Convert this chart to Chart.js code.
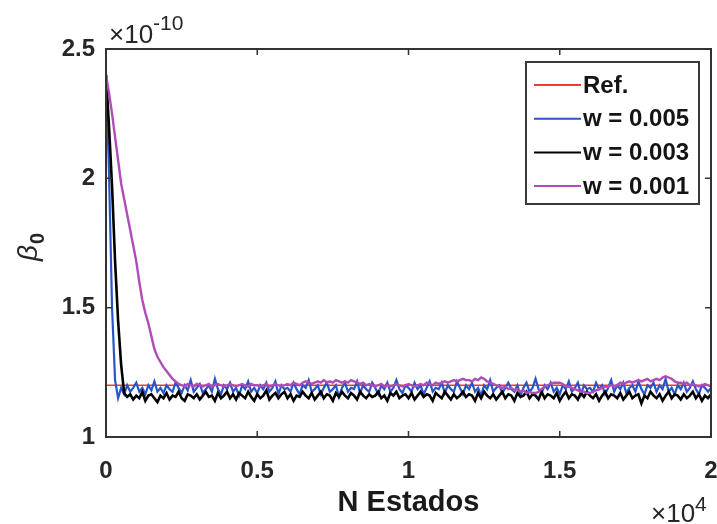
<!DOCTYPE html>
<html>
<head>
<meta charset="utf-8">
<script src="https://cdn.jsdelivr.net/npm/chart.js@4.4.1/dist/chart.umd.min.js"></script>
<style>
  html, body { margin: 0; padding: 0; background: #fff; }
  canvas { display: block; }
</style>
</head>
<body>
<canvas id="betaChart" width="717" height="524"></canvas>
<script>
// samples every 100 states, values in units of 1e-10
const sampleStep = 100;

const refLine = [1.2, 1.2];
const refStates = [0, 20000];

const w005 = [
  2.40, 2.02, 1.50, 1.22, 1.15, 1.19, 1.165, 1.20, 1.175, 1.19,
  1.21, 1.175, 1.19, 1.165, 1.20, 1.18, 1.215, 1.175, 1.19, 1.17,
  1.20, 1.185, 1.175, 1.21, 1.19, 1.17, 1.20, 1.18, 1.22, 1.175,
  1.19, 1.205, 1.17, 1.185, 1.20, 1.175, 1.225, 1.185, 1.165, 1.20,
  1.185, 1.21, 1.175, 1.19, 1.16, 1.20, 1.185, 1.215, 1.175, 1.19,
  1.17, 1.20, 1.185, 1.21, 1.175, 1.19, 1.215, 1.165, 1.20, 1.185,
  1.19, 1.175, 1.21, 1.185, 1.165, 1.20, 1.19, 1.22, 1.175, 1.185,
  1.20, 1.165, 1.19, 1.21, 1.175, 1.185, 1.20, 1.155, 1.19, 1.21,
  1.175, 1.19, 1.185, 1.215, 1.17, 1.20, 1.185, 1.175, 1.21, 1.19,
  1.165, 1.20, 1.185, 1.21, 1.175, 1.19, 1.22, 1.185, 1.17, 1.20,
  1.19, 1.175, 1.21, 1.185, 1.20, 1.165, 1.19, 1.215, 1.175, 1.19,
  1.185, 1.21, 1.17, 1.20, 1.185, 1.175, 1.215, 1.19, 1.165, 1.20,
  1.185, 1.21, 1.175, 1.19, 1.16, 1.20, 1.185, 1.22, 1.175, 1.19,
  1.20, 1.17, 1.19, 1.21, 1.185, 1.175, 1.20, 1.16, 1.19, 1.21,
  1.175, 1.19, 1.225, 1.185, 1.17, 1.20, 1.185, 1.21, 1.175, 1.19,
  1.165, 1.20, 1.185, 1.215, 1.175, 1.19, 1.21, 1.165, 1.20, 1.185,
  1.19, 1.175, 1.21, 1.185, 1.20, 1.165, 1.19, 1.22, 1.175, 1.20,
  1.185, 1.21, 1.17, 1.19, 1.20, 1.175, 1.215, 1.185, 1.165, 1.20,
  1.19, 1.21, 1.175, 1.20, 1.185, 1.225, 1.175, 1.19, 1.165, 1.20,
  1.185, 1.21, 1.175, 1.19, 1.215, 1.185, 1.165, 1.20, 1.19, 1.175, 1.19
];

const w003 = [
  2.40, 2.20, 1.97, 1.68, 1.45, 1.28, 1.17, 1.155, 1.165, 1.145,
  1.16, 1.15, 1.175, 1.14, 1.16, 1.165, 1.15, 1.135, 1.16, 1.15,
  1.17, 1.145, 1.16, 1.155, 1.175, 1.15, 1.14, 1.165, 1.16, 1.15,
  1.165, 1.145, 1.16, 1.175, 1.155, 1.16, 1.14, 1.17, 1.15, 1.16,
  1.175, 1.15, 1.165, 1.145, 1.17, 1.16, 1.15, 1.175, 1.155, 1.14,
  1.165, 1.15, 1.16, 1.18, 1.145, 1.16, 1.17, 1.15, 1.165, 1.175,
  1.15, 1.165, 1.14, 1.16, 1.155, 1.175, 1.16, 1.15, 1.17, 1.145,
  1.16, 1.175, 1.15, 1.165, 1.16, 1.14, 1.17, 1.155, 1.175, 1.16,
  1.15, 1.17, 1.16, 1.145, 1.175, 1.16, 1.15, 1.165, 1.155, 1.16,
  1.175, 1.15, 1.16, 1.14, 1.17, 1.16, 1.175, 1.15, 1.16, 1.165,
  1.15, 1.17, 1.145, 1.16, 1.175, 1.155, 1.165, 1.16, 1.14, 1.17,
  1.16, 1.15, 1.175, 1.16, 1.145, 1.165, 1.15, 1.16, 1.175, 1.155,
  1.165, 1.16, 1.14, 1.17, 1.15, 1.175, 1.16, 1.15, 1.165, 1.145,
  1.16, 1.175, 1.15, 1.165, 1.16, 1.14, 1.17, 1.155, 1.16, 1.175,
  1.15, 1.165, 1.16, 1.145, 1.175, 1.15, 1.165, 1.16, 1.15, 1.17,
  1.14, 1.16, 1.175, 1.15, 1.165, 1.16, 1.145, 1.17, 1.155, 1.175,
  1.16, 1.15, 1.165, 1.14, 1.16, 1.175, 1.15, 1.165, 1.16, 1.15,
  1.17, 1.145, 1.16, 1.175, 1.15, 1.16, 1.165, 1.13, 1.16, 1.15,
  1.175, 1.16, 1.15, 1.165, 1.14, 1.16, 1.175, 1.15, 1.165, 1.16,
  1.145, 1.165, 1.15, 1.16, 1.175, 1.15, 1.165, 1.14, 1.16, 1.15, 1.165
];

const w001 = [
  2.40, 2.33, 2.25, 2.16, 2.07, 1.98, 1.92, 1.86, 1.80, 1.74,
  1.68, 1.60, 1.53, 1.48, 1.44, 1.39, 1.34, 1.31, 1.29, 1.27,
  1.255, 1.24, 1.225, 1.215, 1.205, 1.20, 1.195, 1.205, 1.20, 1.195,
  1.205, 1.20, 1.195, 1.20, 1.205, 1.195, 1.20, 1.205, 1.20, 1.195,
  1.20, 1.205, 1.20, 1.195, 1.20, 1.205, 1.20, 1.195, 1.205, 1.20,
  1.20, 1.195, 1.20, 1.205, 1.195, 1.20, 1.205, 1.20, 1.195, 1.20,
  1.205, 1.20, 1.21, 1.205, 1.20, 1.21, 1.215, 1.21, 1.205, 1.21,
  1.215, 1.21, 1.22, 1.21, 1.215, 1.21, 1.22, 1.215, 1.21, 1.215,
  1.21, 1.22, 1.215, 1.21, 1.205, 1.21, 1.20, 1.205, 1.20, 1.195,
  1.20, 1.205, 1.195, 1.20, 1.195, 1.20, 1.205, 1.20, 1.195, 1.20,
  1.205, 1.20, 1.195, 1.20, 1.205, 1.20, 1.21, 1.205, 1.20, 1.21,
  1.205, 1.21, 1.215, 1.21, 1.215, 1.22, 1.215, 1.22, 1.225, 1.22,
  1.22, 1.215, 1.225, 1.22, 1.23, 1.225, 1.215, 1.21, 1.205, 1.20,
  1.195, 1.19, 1.195, 1.185, 1.19, 1.18, 1.185, 1.175, 1.18, 1.17,
  1.175, 1.17, 1.17, 1.175, 1.185, 1.195, 1.20, 1.205, 1.21, 1.21,
  1.21, 1.205, 1.195, 1.195, 1.19, 1.185, 1.18, 1.175, 1.175, 1.17,
  1.17, 1.175, 1.18, 1.185, 1.19, 1.195, 1.195, 1.20, 1.195, 1.20,
  1.21, 1.205, 1.21, 1.215, 1.21, 1.215, 1.22, 1.215, 1.22, 1.225,
  1.215, 1.22, 1.225, 1.22, 1.23, 1.235, 1.23, 1.225, 1.215, 1.21,
  1.21, 1.205, 1.21, 1.20, 1.205, 1.20, 1.195, 1.20, 1.205, 1.20, 1.195
];

const seriesNames = ['Ref.', 'w = 0.005', 'w = 0.003', 'w = 0.001'];
const seriesColors = ['#f03a3a', '#2a55c8', '#000000', '#b04cb8'];
const xTicks = [0, 5000, 10000, 15000, 20000];
const yTicks = [1, 1.5, 2, 2.5];

const axisColor = '#262626';
const fontName = "'Liberation Sans', Arial, sans-serif";

function toPoints(values) {
  return values.map((v, i) => ({ x: i * sampleStep, y: v }));
}

// box, inward ticks, multipliers, y label and legend
const matlabDecor = {
  id: 'matlabDecor',
  afterDraw(chart) {
    const ctx = chart.ctx;
    const area = chart.chartArea;
    const xs = chart.scales.x;
    const ys = chart.scales.y;
    ctx.save();
    ctx.strokeStyle = '#333333';
    ctx.lineWidth = 2;
    ctx.strokeRect(area.left, area.top, area.right - area.left, area.bottom - area.top);

    ctx.lineWidth = 1.5;
    ctx.beginPath();
    xTicks.forEach(t => {
      const px = xs.getPixelForValue(t);
      ctx.moveTo(px, area.bottom); ctx.lineTo(px, area.bottom - 6);
      ctx.moveTo(px, area.top); ctx.lineTo(px, area.top + 6);
    });
    yTicks.forEach(t => {
      const py = ys.getPixelForValue(t);
      ctx.moveTo(area.left, py); ctx.lineTo(area.left + 6, py);
      ctx.moveTo(area.right, py); ctx.lineTo(area.right - 6, py);
    });
    ctx.stroke();

    // exponent labels
    ctx.fillStyle = axisColor;
    ctx.textBaseline = 'alphabetic';
    ctx.textAlign = 'left';
    ctx.font = '26px ' + fontName;
    ctx.fillText('\u00d710', area.left + 3, area.top - 6);
    let w = ctx.measureText('\u00d710').width;
    ctx.font = '21px ' + fontName;
    ctx.fillText('-10', area.left + 3 + w, area.top - 19);

    ctx.font = '26px ' + fontName;
    ctx.fillText('\u00d710', 651, 522);
    w = ctx.measureText('\u00d710').width;
    ctx.font = '21px ' + fontName;
    ctx.fillText('4', 651 + w, 511);

    // y axis label: beta with subscript 0
    ctx.save();
    ctx.translate(37, 261);
    ctx.rotate(-Math.PI / 2);
    ctx.fillStyle = '#262626';
    ctx.font = 'italic 28px ' + fontName;
    ctx.fillText('\u03b2', 0, 0);
    const bw = ctx.measureText('\u03b2').width;
    ctx.font = 'bold 20px ' + fontName;
    ctx.fillText('0', bw + 1, 7);
    ctx.restore();

    // legend
    const lx = 526, ly = 62, lw = 173, lh = 142;
    ctx.fillStyle = '#ffffff';
    ctx.fillRect(lx, ly, lw, lh);
    ctx.strokeStyle = '#3a3a3a';
    ctx.lineWidth = 2;
    ctx.strokeRect(lx, ly, lw, lh);
    ctx.font = 'bold 24px ' + fontName;
    ctx.textBaseline = 'middle';
    seriesNames.forEach((name, i) => {
      const rowY = ly + 23 + i * 33.7;
      ctx.strokeStyle = seriesColors[i];
      ctx.lineWidth = 2;
      ctx.beginPath();
      ctx.moveTo(lx + 8, rowY);
      ctx.lineTo(lx + 55, rowY);
      ctx.stroke();
      ctx.fillStyle = '#141414';
      ctx.fillText(name, lx + 57, rowY + 1);
    });
    ctx.restore();
  }
};

const ctx = document.getElementById('betaChart').getContext('2d');
new Chart(ctx, {
  type: 'line',
  data: {
    datasets: [
      {
        label: seriesNames[0],
        data: refLine.map((v, i) => ({ x: refStates[i], y: v })),
        borderColor: seriesColors[0], borderWidth: 1.5, order: 3
      },
      {
        label: seriesNames[1],
        data: toPoints(w005),
        borderColor: seriesColors[1], borderWidth: 2.2, order: 2
      },
      {
        label: seriesNames[2],
        data: toPoints(w003),
        borderColor: seriesColors[2], borderWidth: 2.6, order: 1
      },
      {
        label: seriesNames[3],
        data: toPoints(w001),
        borderColor: seriesColors[3], borderWidth: 2.4, order: 0
      }
    ]
  },
  options: {
    responsive: false,
    animation: false,
    devicePixelRatio: 1,
    elements: { point: { radius: 0 }, line: { tension: 0 } },
    layout: { padding: { left: 0, top: 49, right: 6, bottom: 0 } },
    plugins: { legend: { display: false }, tooltip: { enabled: false } },
    scales: {
      x: {
        type: 'linear', min: 0, max: 20000,
        grid: { display: false },
        border: { display: false },
        afterBuildTicks: s => { s.ticks = xTicks.map(v => ({ value: v })); },
        afterFit: s => { s.height = 87; s.paddingLeft = 0; s.paddingRight = 0; },
        ticks: {
          color: axisColor, padding: 12,
          font: { family: fontName, size: 24, weight: 'bold' },
          callback: v => String(v / 10000)
        },
        title: {
          display: true, text: 'N Estados', color: '#1a1a1a',
          font: { family: fontName, size: 29, weight: 'bold' },
          padding: { top: 0, bottom: 4 }
        }
      },
      y: {
        type: 'linear', min: 1, max: 2.5,
        grid: { display: false },
        border: { display: false },
        afterBuildTicks: s => { s.ticks = yTicks.map(v => ({ value: v })); },
        afterFit: s => { s.width = 106; s.paddingTop = 0; s.paddingBottom = 0; },
        ticks: {
          color: axisColor, padding: 3,
          font: { family: fontName, size: 24, weight: 'bold' },
          callback: v => String(v)
        }
      }
    }
  },
  plugins: [matlabDecor]
});
</script>
</body>
</html>
